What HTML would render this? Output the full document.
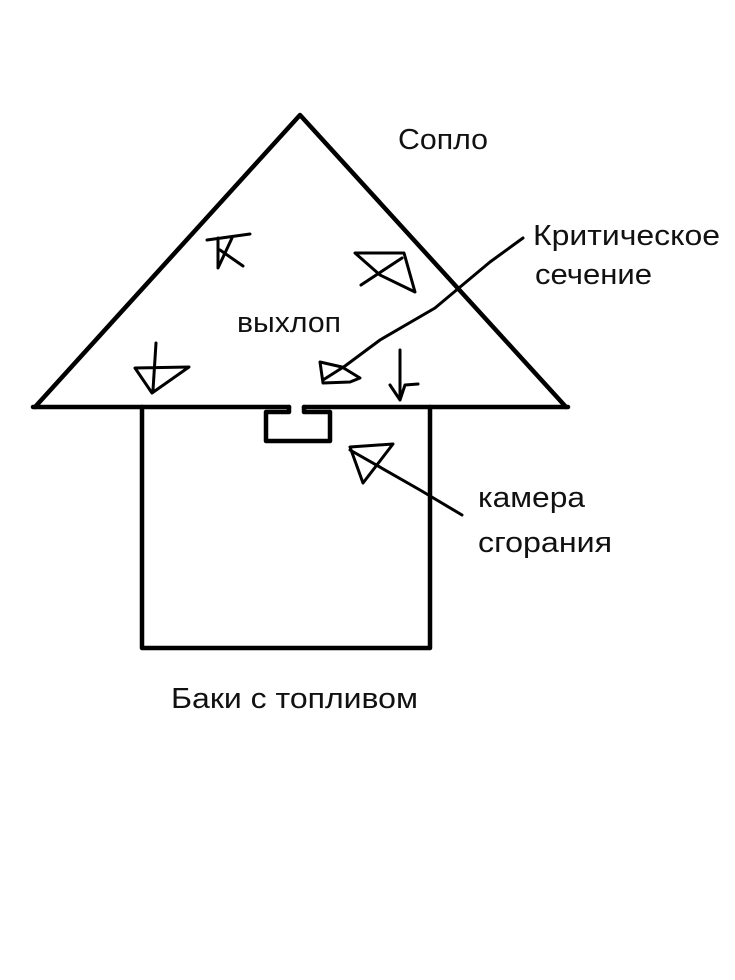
<!DOCTYPE html>
<html><head><meta charset="utf-8"><style>html,body{margin:0;padding:0;background:#fff}svg{display:block}text{font-family:"Liberation Sans","DejaVu Sans",sans-serif;font-size:29px;fill:#111}</style></head>
<body>
<svg width="735" height="980" viewBox="0 0 735 980" xmlns="http://www.w3.org/2000/svg">
<rect width="735" height="980" fill="#fff"/>
<g fill="none" stroke="#000" stroke-width="4.5" stroke-linecap="round" stroke-linejoin="round">
<path d="M35 407 L300 115 L566 407"/>
<path d="M33 407 H289 M304 407 H568"/>
<path d="M142 407 V648 H430 V407"/>
<path d="M289 407 V412 H266 V441 H330 V412 H304 V407"/>
</g>
<g fill="none" stroke="#000" stroke-width="3" stroke-linecap="round" stroke-linejoin="round">
<path d="M207 240 L250 234 M218 238 L218 268 L232 238 M220 250 L243 266"/>
<path d="M355 253 L404 253 L415 292 L380 275 Z M361 285 L402 258"/>
<path d="M135 368 L189 367 L152 393 Z M156 343 L153 390"/>
<path d="M320 362 L342 367 L360 378 L350 382 L323 383 Z M323 380 L345 366 L380 340 L435 308 L490 262 L523 238"/>
<path d="M400 350 L400 400 M390 385 L400 400 L405 385 L418 384"/>
<path d="M350 447 L393 444 L363 483 Z M350 450 L420 490 L462 515"/>
</g>
<text x="398" y="149" textLength="90" lengthAdjust="spacingAndGlyphs">Сопло</text>
<text x="533" y="245" textLength="187" lengthAdjust="spacingAndGlyphs">Критическое</text>
<text x="535" y="284" textLength="117" lengthAdjust="spacingAndGlyphs">сечение</text>
<text x="237" y="332" textLength="104" lengthAdjust="spacingAndGlyphs">выхлоп</text>
<text x="478" y="507" textLength="107" lengthAdjust="spacingAndGlyphs">камера</text>
<text x="478" y="552" textLength="134" lengthAdjust="spacingAndGlyphs">сгорания</text>
<text x="171" y="708" textLength="247" lengthAdjust="spacingAndGlyphs">Баки с топливом</text>
</svg>
</body></html>
